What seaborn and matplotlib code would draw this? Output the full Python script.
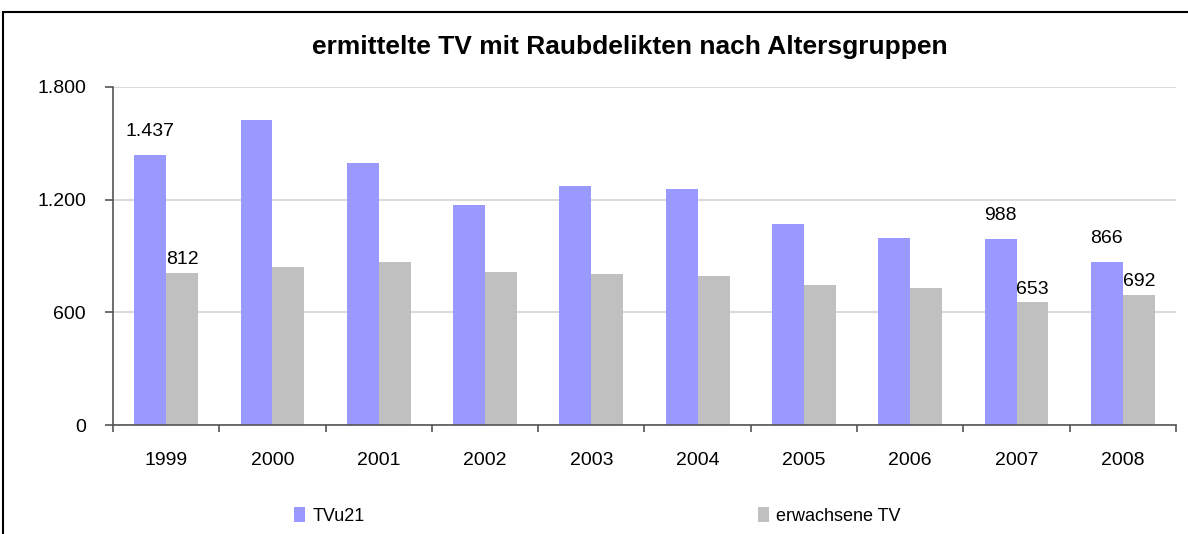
import pandas as pd
import seaborn as sns
import matplotlib.pyplot as plt
import matplotlib
import numpy as np
from matplotlib.ticker import FixedLocator, FuncFormatter

# data
years = ['1999', '2000', '2001', '2002', '2003', '2004', '2005', '2006', '2007', '2008']
tvu21 = [1437, 1623, 1394, 1171, 1272, 1256, 1070, 996, 988, 866]
erwachsene = [812, 842, 868, 813, 804, 794, 746, 730, 653, 692]
groups = ['TVu21', 'erwachsene TV']
colors = ['#9999FF', '#C0C0C0']
yticks = [0, 600, 1200, 1800]

# only some bars carry a value label in the original
labels_tvu21 = ['1.437', '', '', '', '', '', '', '', '988', '866']
labels_erw = ['812', '', '', '', '', '', '', '', '653', '692']

df = pd.DataFrame({
    'Jahr': years * 2,
    'Anzahl': tvu21 + erwachsene,
    'Gruppe': [groups[0]] * len(years) + [groups[1]] * len(years),
})

sns.set_style('white')
plt.rcParams['font.family'] = ['Liberation Sans', 'DejaVu Sans']
plt.rcParams['text.color'] = 'black'
plt.rcParams['xtick.color'] = 'black'
plt.rcParams['ytick.color'] = 'black'
plt.rcParams['xtick.bottom'] = True
plt.rcParams['ytick.left'] = True

dpi = 100
fig = plt.figure(figsize=(11.88, 5.34), dpi=dpi)
ax = fig.add_axes([0.0951, 0.2036, 0.8948, 0.634])

sns.barplot(data=df, x='Jahr', y='Anzahl', hue='Gruppe', palette=colors,
            width=0.6, saturation=1, linewidth=0, ax=ax)

def de_thousands(v, pos=None):
    return f'{int(v):,}'.replace(',', '.')

ax.set_ylim(0, 1800)
ax.yaxis.set_major_locator(FixedLocator(yticks))
ax.yaxis.set_major_formatter(FuncFormatter(de_thousands))
ax.set_xlim(-0.5, len(years) - 0.5)
ax.set_xlabel('')
ax.set_ylabel('')

ax.grid(axis='y', color='#d4d4d4', linewidth=1.2)
ax.set_axisbelow(True)
for s in ['top', 'right']:
    ax.spines[s].set_visible(False)
for s in ['left', 'bottom']:
    ax.spines[s].set_color('#555555')
    ax.spines[s].set_linewidth(1.2)

# category boundaries get the tick marks, labels sit in between
ax.xaxis.set_minor_locator(FixedLocator(np.arange(-0.5, len(years), 1.0)))
ax.tick_params(axis='x', which='major', length=0, pad=19, labelsize=14)
ax.tick_params(axis='x', which='minor', bottom=True, length=5, width=1.2,
               color='#555555', direction='out')
ax.tick_params(axis='y', left=True, length=5.5, width=1.2, color='#555555',
               labelcolor='black', direction='out', pad=14, labelsize=14)

ax.bar_label(ax.containers[0], labels=labels_tvu21, padding=11, fontsize=14)
ax.bar_label(ax.containers[1], labels=labels_erw, padding=3.5, fontsize=14)

handles, labels = ax.get_legend_handles_labels()
ax.get_legend().remove()
fig.legend(handles, labels, loc='center', bbox_to_anchor=(0.503, 0.034), ncol=2,
           frameon=False, fontsize=13, handlelength=0.6, handleheight=0.9,
           handletextpad=0.4, columnspacing=21.8)

fig.text(0.53, 0.912, 'ermittelte TV mit Raubdelikten nach Altersgruppen',
         ha='center', va='center', fontsize=19, fontweight='bold')

# chart frame, cut off at right and bottom like the original
frame = matplotlib.patches.Rectangle((3 / 1188, -0.1), 1.2, 1.1 - 12 / 534,
                                     transform=fig.transFigure, fill=False,
                                     edgecolor='black', linewidth=1.5)
fig.patches.append(frame)

fig.savefig('out.png', dpi=dpi)
